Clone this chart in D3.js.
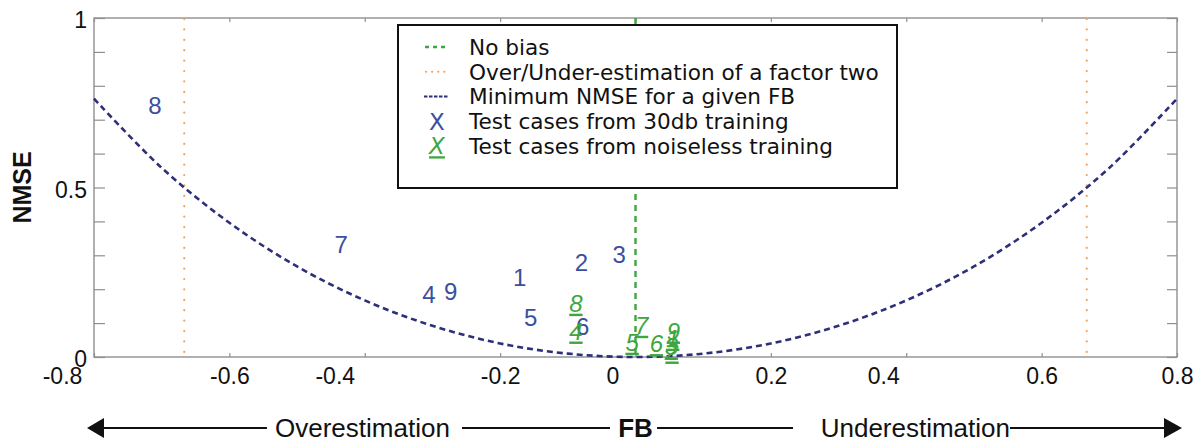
<!DOCTYPE html>
<html>
<head>
<meta charset="utf-8">
<script src="https://cdn.jsdelivr.net/npm/d3@7/dist/d3.min.js"></script>
<style>
  html, body { margin: 0; padding: 0; background: #fff; }
  svg { display: block; }
</style>
</head>
<body>
<svg id="chart" width="1203" height="443"></svg>
<script>
// Test cases from 30 dB training (blue labels)
const noisyCases = ["1", "2", "3", "4", "5", "6", "7", "8", "9"];
const noisyFB    = [-0.171, -0.080, -0.024, -0.305, -0.155, -0.078, -0.435, -0.710, -0.273];
const noisyNMSE  = [0.236, 0.279, 0.304, 0.186, 0.118, 0.091, 0.333, 0.743, 0.193];

// Test cases from noiseless training (green labels)
const cleanCases = ["1", "2", "3", "4", "5", "6", "7", "8", "9"];
const cleanFB    = [0.055, 0.054, 0.053, -0.088, -0.005, 0.031, 0.009, -0.088, 0.056];
const cleanNMSE  = [0.056, 0.018, 0.030, 0.077, 0.044, 0.040, 0.094, 0.159, 0.077];

// Minimum NMSE attainable for a given FB
const boundFB   = [-0.8, -0.7, -0.6, -0.5, -0.4, -0.3, -0.2, -0.1, 0, 0.1, 0.2, 0.3, 0.4, 0.5, 0.6, 0.7, 0.8];
const boundNMSE = [0.762, 0.558, 0.396, 0.267, 0.167, 0.092, 0.040, 0.010, 0, 0.010, 0.040, 0.092, 0.167, 0.267, 0.396, 0.558, 0.762];

// Reference lines
const noBiasFB = 0;
const factorTwoFB = [-2 / 3, 2 / 3];

// Axis ticks
const xTickValues = [-0.8, -0.6, -0.4, -0.2, 0, 0.2, 0.4, 0.6, 0.8];
const xTickLabels = ["-0.8", "-0.6", "-0.4", "-0.2", "0", "0.2", "0.4", "0.6", "0.8"];
const yTickValues = [0, 0.1, 0.2, 0.3, 0.4, 0.5, 0.6, 0.7, 0.8, 0.9, 1];
const yTickLabels = ["0", "", "", "", "", "0.5", "", "", "", "", "1"];

const legendLabels = [
  "No bias",
  "Over/Under-estimation of a factor two",
  "Minimum NMSE for a given FB",
  "Test cases from 30db training",
  "Test cases from noiseless training"
];

const BLUE = "#3a4f9e";
const GREEN = "#3ea63e";
const ORANGE = "#f3a35a";
const NAVY = "#2d2f78";
const AXIS = "#8f8f8f";
const SANS = "'Liberation Sans', Arial, sans-serif";

const svg = d3.select("#chart");
const x = d3.scaleLinear().domain([-0.8, 0.8]).range([94, 1177]);
const y = d3.scaleLinear().domain([0, 1]).range([357, 18]);

// Plot frame
svg.append("rect")
  .attr("x", x(-0.8)).attr("y", y(1))
  .attr("width", x(0.8) - x(-0.8)).attr("height", y(0) - y(1))
  .attr("fill", "none").attr("stroke", AXIS).attr("stroke-width", 1.4);

function styleAxis(g) {
  g.select(".domain").remove();
  g.selectAll(".tick line").attr("stroke", AXIS).attr("stroke-width", 1.2);
  g.selectAll("text").attr("fill", "#111").attr("font-family", SANS).attr("font-size", 23);
}

// Bottom axis with labels (some labels sit a little left of their tick)
const labelNudge = { "-0.8": -32, "-0.4": -30, "0": -23, "0.4": -23 };
svg.append("g")
  .attr("transform", `translate(0,${y(0)})`)
  .call(d3.axisBottom(x).tickValues(xTickValues)
    .tickFormat((d, i) => xTickLabels[i])
    .tickSizeInner(-4).tickSizeOuter(0).tickPadding(11))
  .call(styleAxis)
  .call(g => g.selectAll(".tick text").attr("dx", function () {
    return labelNudge[d3.select(this).text()] || 0;
  }));

// Top axis, ticks only
svg.append("g")
  .attr("transform", `translate(0,${y(1)})`)
  .call(d3.axisTop(x).tickValues(xTickValues).tickFormat("").tickSizeInner(-4).tickSizeOuter(0))
  .call(styleAxis);

// Left axis
svg.append("g")
  .attr("transform", `translate(${x(-0.8)},0)`)
  .call(d3.axisLeft(y).tickValues(yTickValues)
    .tickFormat((d, i) => yTickLabels[i])
    .tickSizeInner(-11).tickSizeOuter(0).tickPadding(7))
  .call(styleAxis)
  .call(g => g.selectAll(".tick text").attr("dy", "0.42em"));

// Right axis, ticks only
svg.append("g")
  .attr("transform", `translate(${x(0.8)},0)`)
  .call(d3.axisRight(y).tickValues(yTickValues).tickFormat("").tickSizeInner(-10).tickSizeOuter(0))
  .call(styleAxis);

// No-bias line
svg.append("line")
  .attr("x1", x(noBiasFB)).attr("x2", x(noBiasFB))
  .attr("y1", y(1)).attr("y2", y(0))
  .attr("stroke", GREEN).attr("stroke-width", 2.4)
  .attr("stroke-dasharray", "6 5");

// Factor-of-two lines
svg.selectAll(".factor2")
  .data(factorTwoFB)
  .join("line")
  .attr("class", "factor2")
  .attr("x1", d => x(d)).attr("x2", d => x(d))
  .attr("y1", y(1) + 1).attr("y2", y(0))
  .attr("stroke", ORANGE).attr("stroke-width", 2.2)
  .attr("stroke-linecap", "round")
  .attr("stroke-dasharray", "0.1 10.3");

// Minimum NMSE curve
const bound = boundFB.map((f, i) => [f, boundNMSE[i]]);
svg.append("path")
  .datum(bound)
  .attr("d", d3.line().x(d => x(d[0])).y(d => y(d[1])).curve(d3.curveCatmullRom.alpha(0.5)))
  .attr("fill", "none").attr("stroke", NAVY).attr("stroke-width", 2.6)
  .attr("stroke-dasharray", "6 4");

// Case numbers, 30 dB training
svg.selectAll(".noisy")
  .data(noisyCases.map((c, i) => ({ c, fb: noisyFB[i], v: noisyNMSE[i] })))
  .join("text")
  .attr("class", "noisy")
  .attr("x", d => x(d.fb)).attr("y", d => y(d.v))
  .attr("dy", "0.36em").attr("text-anchor", "middle")
  .attr("font-family", SANS).attr("font-size", 24).attr("fill", BLUE)
  .text(d => d.c);

// Case numbers, noiseless training
svg.selectAll(".clean")
  .data(cleanCases.map((c, i) => ({ c, fb: cleanFB[i], v: cleanNMSE[i] })))
  .join("text")
  .attr("class", "clean")
  .attr("x", d => x(d.fb)).attr("y", d => y(d.v))
  .attr("dy", "0.36em").attr("text-anchor", "middle")
  .attr("font-family", SANS).attr("font-size", 24).attr("font-style", "italic")
  .attr("text-decoration", "underline").attr("fill", GREEN)
  .text(d => d.c);

// Legend
const lg = svg.append("g");
lg.append("rect")
  .attr("x", 398).attr("y", 25).attr("width", 499).attr("height", 163)
  .attr("fill", "#fff").attr("stroke", "#111").attr("stroke-width", 2);

const rowY = d3.scalePoint().domain(d3.range(legendLabels.length)).range([47, 146]);
const LEG_FONT = "'DejaVu Sans', Verdana, sans-serif";

lg.selectAll(".legtext")
  .data(legendLabels)
  .join("text")
  .attr("class", "legtext")
  .attr("x", 469).attr("y", (d, i) => rowY(i))
  .attr("dy", "0.36em")
  .attr("font-family", LEG_FONT).attr("font-size", 21.6).attr("fill", "#111")
  .text(d => d);

lg.append("line")
  .attr("x1", 425).attr("x2", 447).attr("y1", rowY(0)).attr("y2", rowY(0))
  .attr("stroke", GREEN).attr("stroke-width", 2.4).attr("stroke-dasharray", "4 4");
lg.append("line")
  .attr("x1", 426).attr("x2", 447).attr("y1", rowY(1)).attr("y2", rowY(1))
  .attr("stroke", ORANGE).attr("stroke-width", 2.2).attr("stroke-linecap", "round")
  .attr("stroke-dasharray", "0.1 6");
lg.append("line")
  .attr("x1", 424).attr("x2", 448).attr("y1", rowY(2)).attr("y2", rowY(2))
  .attr("stroke", NAVY).attr("stroke-width", 2.2).attr("stroke-dasharray", "3.5 1.5");
lg.append("text")
  .attr("x", 437).attr("y", rowY(3)).attr("dy", "0.36em").attr("text-anchor", "middle")
  .attr("font-family", LEG_FONT).attr("font-size", 23).attr("fill", BLUE)
  .text("X");
lg.append("text")
  .attr("x", 437).attr("y", rowY(4)).attr("dy", "0.36em").attr("text-anchor", "middle")
  .attr("font-family", LEG_FONT).attr("font-size", 23).attr("font-style", "italic")
  .attr("text-decoration", "underline").attr("fill", GREEN)
  .text("X");

// Axis titles
svg.append("text")
  .attr("transform", `translate(31,${(y(0) + y(1)) / 2}) rotate(-90)`)
  .attr("text-anchor", "middle")
  .attr("font-family", SANS).attr("font-weight", "bold").attr("font-size", 25).attr("fill", "#111")
  .text("NMSE");

// Bottom FB annotation with direction arrows
const ann = svg.append("g").attr("font-family", SANS).attr("fill", "#111");
const arrowY = 428;
const segs = [[103, 267], [462, 610], [657, 793], [1010, 1164]];
ann.selectAll("line")
  .data(segs)
  .join("line")
  .attr("x1", d => d[0]).attr("x2", d => d[1])
  .attr("y1", arrowY).attr("y2", arrowY)
  .attr("stroke", "#111").attr("stroke-width", 2);
ann.append("path").attr("d", `M87,${arrowY} L104,${arrowY - 10} L104,${arrowY + 10} Z`);
ann.append("path").attr("d", `M1182,${arrowY} L1164,${arrowY - 10} L1164,${arrowY + 10} Z`);
ann.append("text").attr("x", 275).attr("y", 437).attr("font-size", 26).text("Overestimation");
ann.append("text").attr("x", 635.5).attr("y", 437).attr("text-anchor", "middle")
  .attr("font-size", 26).attr("font-weight", "bold").text("FB");
ann.append("text").attr("x", 1010).attr("y", 437).attr("text-anchor", "end")
  .attr("font-size", 26).text("Underestimation");
</script>
</body>
</html>
